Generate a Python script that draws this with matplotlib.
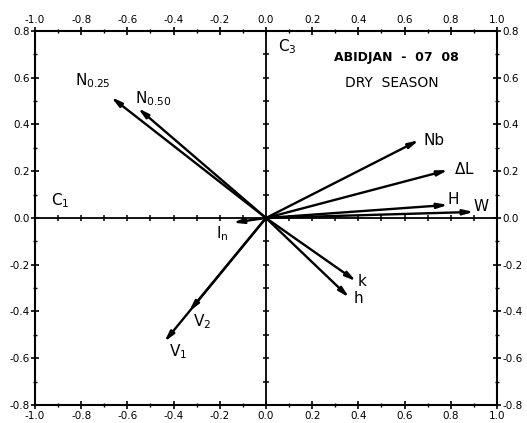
import numpy as np
import matplotlib.pyplot as plt
from matplotlib.ticker import MultipleLocator, FormatStrFormatter

plt.rcParams['font.family'] = ['DejaVu Sans']
plt.rcParams['mathtext.fontset'] = 'dejavusans'

# variable loadings on axes C1 (x) and C3 (y)
names = ['N$_{0.25}$', 'N$_{0.50}$', 'Nb', r'$\Delta$L', 'H', 'W',
         'I$_{\\rm n}$', 'k', 'h', 'V$_2$', 'V$_1$']
xs = [-0.67, -0.554, 0.662, 0.788, 0.788, 0.90, -0.143, 0.39, 0.36, -0.333, -0.44]
ys = [0.517, 0.47, 0.333, 0.205, 0.056, 0.026, -0.02, -0.27, -0.34, -0.40, -0.53]
# label offsets in points
offs = [(-26, 12), (-2, 7), (3, 0), (4, 1), (0, 4), (0, 4),
        (-12, -8), (1, 0), (3, -1), (3, -7), (3, -7)]

fig = plt.figure(figsize=(5.27, 4.23), dpi=100)
ax = fig.add_axes([0.0664, 0.0426, 0.8766, 0.8841])
ax.set_xlim(-1.0, 1.0)
ax.set_ylim(-0.8, 0.8)

for s in ax.spines.values():
    s.set_linewidth(1.5)

ax.xaxis.set_major_locator(MultipleLocator(0.2))
ax.xaxis.set_minor_locator(MultipleLocator(0.1))
ax.yaxis.set_major_locator(MultipleLocator(0.2))
ax.yaxis.set_minor_locator(MultipleLocator(0.1))
ax.xaxis.set_major_formatter(FormatStrFormatter('%.1f'))
ax.yaxis.set_major_formatter(FormatStrFormatter('%.1f'))
ax.tick_params(which='both', direction='inout', top=True, right=True,
               labeltop=True, labelright=True, labelsize=7.5, pad=1)
ax.tick_params(which='major', length=6, width=1.2)
ax.tick_params(which='minor', length=3, width=1.0)

# central axes with ticks
ax.axhline(0, color='black', lw=1.3)
ax.axvline(0, color='black', lw=1.3)
tx = np.arange(-1.0, 1.01, 0.1)
ty = np.arange(-0.8, 0.81, 0.1)
ax.plot(tx, np.zeros_like(tx), ls='none', marker='|', ms=4, mew=1.1, color='black')
ax.plot(np.zeros_like(ty), ty, ls='none', marker='_', ms=4, mew=1.1, color='black')

for name, x, y, off in zip(names, xs, ys, offs):
    ax.annotate('', xy=(x, y), xytext=(0, 0),
                arrowprops=dict(arrowstyle='-|>,head_length=0.6,head_width=0.15',
                                lw=1.7, color='black', shrinkA=0, shrinkB=0))
    ax.annotate(name, xy=(x, y), xytext=off, textcoords='offset points',
                fontsize=11, va='center', ha='left')

ax.text(0.05, 0.735, 'C$_3$', fontsize=11, va='center')
ax.text(-0.93, 0.075, 'C$_1$', fontsize=11, va='center')
ax.text(0.563, 0.688, 'ABIDJAN  -  07  08', fontsize=9, fontweight='bold',
        ha='center', va='center')
ax.text(0.545, 0.577, 'DRY  SEASON', fontsize=10, ha='center', va='center')

fig.savefig('out.png', dpi=100)
